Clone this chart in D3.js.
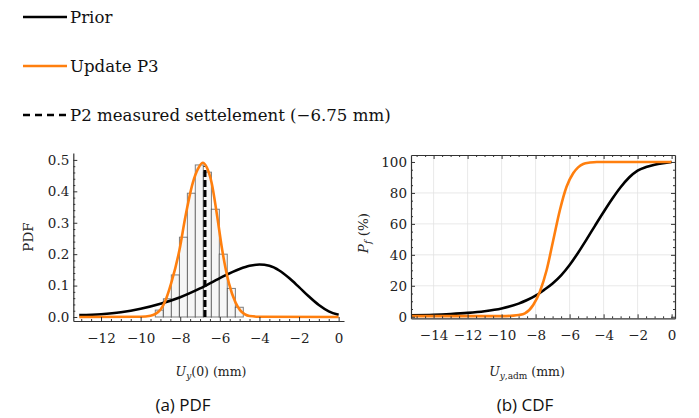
<!DOCTYPE html>
<html>
<head>
<meta charset="utf-8">
<script src="https://cdn.jsdelivr.net/npm/d3@7"></script>
<style>
  body { margin: 0; background: #fff; }
  svg { display: block; }
</style>
</head>
<body>
<svg id="chart" width="699" height="418"></svg>
<script>
// ---- data ----
// (a) PDF
const priorPdfX = [-13.1, -12, -11, -10, -9, -8, -7, -6, -5, -4.5, -4, -3.5, -3, -2.5, -2, -1.5, -1, -0.5, 0];
const priorPdfY = [0.006, 0.009, 0.015, 0.026, 0.042, 0.063, 0.091, 0.124, 0.153, 0.163, 0.167, 0.163, 0.148, 0.124, 0.095, 0.065, 0.038, 0.018, 0.007];

const updatePdfX = [-13.1, -10, -9.5, -9.25, -9.0, -8.75, -8.46, -8.04, -7.74, -7.37, -7.1, -6.87, -6.65, -6.41, -6.13, -5.88, -5.54, -5.2, -4.98, -4.75, -4.5, -4, 0];
const updatePdfY = [0.0, 0.001, 0.004, 0.010, 0.023, 0.052, 0.107, 0.213, 0.319, 0.426, 0.472, 0.491, 0.475, 0.426, 0.319, 0.213, 0.107, 0.045, 0.022, 0.009, 0.003, 0.001, 0.0];

const binLeft = [-9.26, -8.85, -8.45, -8.04, -7.64, -7.24, -6.83, -6.43, -6.03, -5.62, -5.22];
const binDensity = [0.022, 0.058, 0.134, 0.254, 0.394, 0.484, 0.461, 0.343, 0.200, 0.091, 0.031];
const binWidth = 0.405;

const measured = -6.75;
const measuredTop = 0.48;

const pdfXTicks = [-12, -10, -8, -6, -4, -2, 0];
const pdfYTicks = [0, 0.1, 0.2, 0.3, 0.4, 0.5];

// (b) CDF, in %
const priorCdfX = [-15.33, -14, -13, -12, -11, -10, -9, -8.5, -8, -7.5, -7, -6.5, -6, -5.5, -5, -4.5, -4, -3.5, -3, -2.5, -2, -1.5, -1, -0.5, 0];
const priorCdfY = [1.0, 1.3, 1.8, 2.5, 3.6, 5.4, 8.5, 10.8, 13.6, 17.35, 21.5, 26.75, 33.45, 41.35, 50.0, 58.9, 67.65, 76.05, 83.65, 89.95, 94.45, 96.75, 98.25, 99.25, 100];

const updateCdfX = [-15.33, -10, -9.3, -9, -8.63, -8.14, -7.75, -7.35, -6.96, -6.57, -6.18, -5.79, -5.5, -5.2, -4.8, -4.4, 0];
const updateCdfY = [0.4, 0.4, 0.7, 1.1, 2.2, 7.6, 16.2, 30.2, 49.6, 69, 84, 92.7, 96.5, 98.7, 99.6, 100, 100];

const cdfXTicks = [-14, -12, -10, -8, -6, -4, -2, 0];
const cdfYTicks = [0, 20, 40, 60, 80, 100];

const legendItems = ["Prior", "Update P3", "P2 measured settelement (\u22126.75 mm)"];

// ---- setup ----
const svg = d3.select("#chart");
const orange = "#ff7f0e";
const serif = "'DejaVu Serif', serif";
const axisColor = "#333";

const zip = (xs, ys) => xs.map((x, i) => [x, ys[i]]);

function styleAxis(g, size) {
  g.attr("font-family", serif).attr("font-size", size);
  g.selectAll("path.domain").attr("stroke", axisColor).attr("stroke-width", 1.2);
  g.selectAll(".tick line").attr("stroke", axisColor).attr("stroke-width", 1);
  g.selectAll(".tick text").attr("fill", "#222");
}

// ---- legend ----
const legend = svg.append("g");
legendItems.forEach((label, i) => {
  const y = 17 + i * 49;
  const line = legend.append("line")
    .attr("x1", 23).attr("x2", 67)
    .attr("y1", y).attr("y2", y)
    .attr("stroke-width", 2.6)
    .attr("stroke", i === 1 ? orange : "#000");
  if (i === 2) line.attr("stroke-dasharray", "7,5");
  legend.append("text")
    .attr("x", 70).attr("y", y + 6)
    .attr("font-family", serif)
    .attr("font-size", 16.6)
    .attr("fill", "#111")
    .text(label);
});

// ---- (a) PDF ----
const xL = d3.scaleLinear().domain([-13.4, 0.27]).range([73.3, 344]);
const yL = d3.scaleLinear().domain([-0.0127, 0.522]).range([321, 153]);

const pdfPlot = svg.append("g");

pdfPlot.selectAll("rect.bin")
  .data(d3.zip(binLeft, binDensity))
  .enter()
  .append("rect")
  .attr("class", "bin")
  .attr("x", d => xL(d[0]))
  .attr("width", d => xL(d[0] + binWidth) - xL(d[0]))
  .attr("y", d => yL(d[1]))
  .attr("height", d => yL(0) - yL(d[1]))
  .attr("fill", "#f6f6f6")
  .attr("stroke", "rgba(0,0,0,0.5)")
  .attr("stroke-width", 1);

const lineL = d3.line()
  .x(d => xL(d[0]))
  .y(d => yL(d[1]))
  .curve(d3.curveMonotoneX);

pdfPlot.append("path")
  .attr("d", lineL(zip(priorPdfX, priorPdfY)))
  .attr("fill", "none")
  .attr("stroke", "#000")
  .attr("stroke-width", 2.6);

pdfPlot.append("line")
  .attr("x1", xL(measured)).attr("x2", xL(measured))
  .attr("y1", yL(0)).attr("y2", yL(measuredTop))
  .attr("stroke", "#000")
  .attr("stroke-width", 3)
  .attr("stroke-dasharray", "7,3");

pdfPlot.append("path")
  .attr("d", lineL(zip(updatePdfX, updatePdfY)))
  .attr("fill", "none")
  .attr("stroke", orange)
  .attr("stroke-width", 2.6);

// axes
const yAxisL = svg.append("g")
  .attr("transform", `translate(${xL.range()[0]},0)`)
  .call(d3.axisLeft(yL).tickValues(pdfYTicks).tickFormat(d3.format(".1f"))
    .tickSize(-4).tickSizeOuter(0).tickPadding(4));
styleAxis(yAxisL, 13.5);

const yMinorL = svg.append("g")
  .attr("transform", `translate(${xL.range()[0]},0)`)
  .call(d3.axisLeft(yL).tickValues(d3.range(0.02, 0.52, 0.02).filter(v => Math.abs(v * 10 - Math.round(v * 10)) > 1e-6))
    .tickFormat("").tickSize(-2).tickSizeOuter(0));
yMinorL.select("path.domain").remove();
styleAxis(yMinorL, 10);

const xAxisL = svg.append("g")
  .attr("transform", `translate(0,${yL.range()[0]})`)
  .call(d3.axisBottom(xL).tickValues(pdfXTicks).tickFormat(d3.format("d"))
    .tickSize(-4).tickSizeOuter(0).tickPadding(12));
styleAxis(xAxisL, 13.5);

const xMinorL = svg.append("g")
  .attr("transform", `translate(0,${yL.range()[0]})`)
  .call(d3.axisBottom(xL).tickValues(d3.range(-13, 0.01, 0.5).filter(v => v % 2 !== 0))
    .tickFormat("").tickSize(-2).tickSizeOuter(0));
xMinorL.select("path.domain").remove();
styleAxis(xMinorL, 10);

// labels
svg.append("text")
  .attr("transform", "translate(33,237) rotate(-90)")
  .attr("text-anchor", "middle")
  .attr("font-family", serif).attr("font-size", 13.5).attr("fill", "#222")
  .text("PDF");

const xlabL = svg.append("text")
  .attr("x", 211).attr("y", 376)
  .attr("text-anchor", "middle")
  .attr("font-family", serif).attr("font-size", 12.5).attr("fill", "#222");
xlabL.append("tspan").attr("font-style", "italic").text("U");
xlabL.append("tspan").attr("font-style", "italic").attr("font-size", 9).attr("dy", 3).text("y");
xlabL.append("tspan").attr("dy", -3).text("(0) (mm)");

// ---- (b) CDF ----
const xR = d3.scaleLinear().domain([-15.33, 0.2]).range([411, 675]);
const yR = d3.scaleLinear().domain([-1, 104.5]).range([318.3, 155]);

const cdfPlot = svg.append("g");

// grid
cdfPlot.selectAll("line.vgrid")
  .data(cdfXTicks.filter(v => v !== 0))
  .enter().append("line")
  .attr("x1", d => xR(d)).attr("x2", d => xR(d))
  .attr("y1", yR.range()[0]).attr("y2", yR.range()[1])
  .attr("stroke", "#e2e2e2").attr("stroke-width", 0.8);
cdfPlot.selectAll("line.hgrid")
  .data(cdfYTicks.filter(v => v !== 0 && v !== 100))
  .enter().append("line")
  .attr("x1", xR.range()[0]).attr("x2", xR.range()[1])
  .attr("y1", d => yR(d)).attr("y2", d => yR(d))
  .attr("stroke", "#e2e2e2").attr("stroke-width", 0.8);

const lineR = d3.line()
  .x(d => xR(d[0]))
  .y(d => yR(d[1]))
  .curve(d3.curveMonotoneX);

cdfPlot.append("path")
  .attr("d", lineR(zip(priorCdfX, priorCdfY)))
  .attr("fill", "none")
  .attr("stroke", "#000")
  .attr("stroke-width", 2.6);

cdfPlot.append("path")
  .attr("d", lineR(zip(updateCdfX, updateCdfY)))
  .attr("fill", "none")
  .attr("stroke", orange)
  .attr("stroke-width", 2.6);

// frame and ticks on all four sides
const xMinorR = d3.range(-15, 0.01, 0.5).filter(v => v % 2 !== 0);
const yMinorR = d3.range(5, 100, 5).filter(v => v % 20 !== 0);
const [rx0, rx1] = xR.range();
const [ry0, ry1] = yR.range();

function addAxis(axis, tx, ty, labels, minor) {
  const g = svg.append("g").attr("transform", `translate(${tx},${ty})`).call(axis);
  if (!labels) g.selectAll(".tick text").remove();
  if (minor) g.select("path.domain").remove();
  styleAxis(g, 13.5);
  return g;
}

addAxis(d3.axisLeft(yR).tickValues(cdfYTicks).tickSize(-4).tickSizeOuter(0).tickPadding(4), rx0, 0, true, false);
addAxis(d3.axisLeft(yR).tickValues(yMinorR).tickSize(-2).tickSizeOuter(0), rx0, 0, false, true);
addAxis(d3.axisRight(yR).tickValues(cdfYTicks).tickSize(-4).tickSizeOuter(0), rx1, 0, false, false);
addAxis(d3.axisRight(yR).tickValues(yMinorR).tickSize(-2).tickSizeOuter(0), rx1, 0, false, true);
addAxis(d3.axisBottom(xR).tickValues(cdfXTicks).tickFormat(d3.format("d")).tickSize(-4).tickSizeOuter(0).tickPadding(12), 0, ry0, true, false);
addAxis(d3.axisBottom(xR).tickValues(xMinorR).tickSize(-2).tickSizeOuter(0), 0, ry0, false, true);
addAxis(d3.axisTop(xR).tickValues(cdfXTicks).tickSize(-4).tickSizeOuter(0), 0, ry1, false, false);
addAxis(d3.axisTop(xR).tickValues(xMinorR).tickSize(-2).tickSizeOuter(0), 0, ry1, false, true);

// labels
const ylabR = svg.append("text")
  .attr("transform", "translate(368,233) rotate(-90)")
  .attr("text-anchor", "middle")
  .attr("font-family", serif).attr("font-size", 13.5).attr("fill", "#222");
ylabR.append("tspan").attr("font-style", "italic").text("P");
ylabR.append("tspan").attr("font-style", "italic").attr("font-size", 9.5).attr("dy", 3).text("f");
ylabR.append("tspan").attr("dy", -3).text(" (%)");

const xlabR = svg.append("text")
  .attr("x", 527).attr("y", 376)
  .attr("text-anchor", "middle")
  .attr("font-family", serif).attr("font-size", 12.5).attr("fill", "#222");
xlabR.append("tspan").attr("font-style", "italic").text("U");
xlabR.append("tspan").attr("font-size", 9).attr("dy", 3)
  .call(t => {
    t.append("tspan").attr("font-style", "italic").text("y");
    t.append("tspan").text(",adm");
  });
xlabR.append("tspan").attr("dy", -3).text(" (mm)");

// ---- sub captions ----
svg.append("text")
  .attr("x", 183).attr("y", 411)
  .attr("text-anchor", "middle")
  .attr("font-family", "'Open Sans', sans-serif").attr("font-size", 17).attr("fill", "#111")
  .text("(a) PDF");
svg.append("text")
  .attr("x", 525).attr("y", 411)
  .attr("text-anchor", "middle")
  .attr("font-family", "'Open Sans', sans-serif").attr("font-size", 17).attr("fill", "#111")
  .text("(b) CDF");
</script>
</body>
</html>
